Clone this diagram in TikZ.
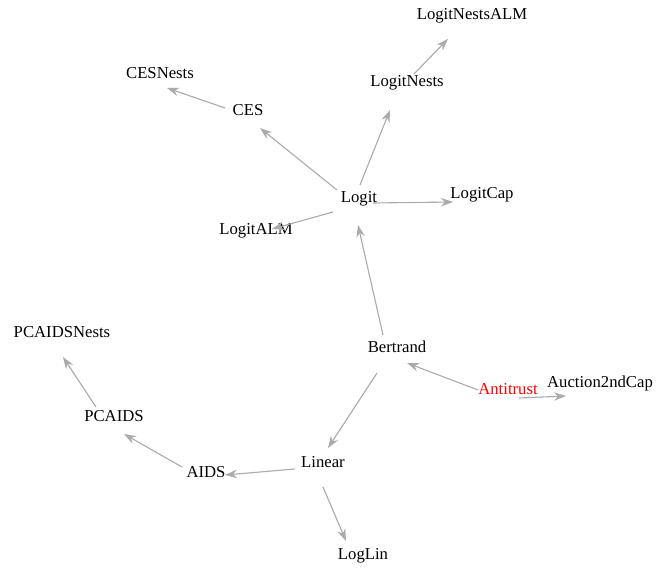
\documentclass[tikz,border=0pt]{standalone}
\usepackage{fontspec}
\setmainfont{Liberation Serif}
\usepackage{xcolor}
\definecolor{edgegray}{rgb}{0.67,0.67,0.67}
\usepackage{tikz}
\usetikzlibrary{arrows,arrows.meta,positioning}
\tikzset{
	model/.style={
		inner sep=0pt, text=black,
		text height=11pt, text depth=0pt,
		font=\fontsize{16.7}{20}\selectfont
	},
	root/.style={model, text=red},
	dep/.style={-{Stealth[length=12pt,width=8.5pt]}, draw=edgegray, fill=edgegray, line width=1.1pt}
}

\begin{document}
\begin{tikzpicture}[x=1pt,y=-1pt]
				\useasboundingbox (0,0) rectangle (657,569);
				\node[model] (nestsalm) at (472,14)  {LogitNestsALM};
				\node[model] (cesnests) at (160,73)  {CESNests};
				\node[model] (nests)    at (407,81)  {LogitNests};
				\node[model] (ces)      at (248,110) {CES};
				\node[model] (logit)    at (359,197) {Logit};
				\node[model] (cap)      at (482,193) {LogitCap};
				\node[model] (alm)      at (256,229) {LogitALM};
				\node[model] (pcnests)  at (62,332)  {PCAIDSNests};
				\node[model] (bertrand) at (397,347) {Bertrand};
				\node[root]  (anti)     at (508,389) {Antitrust};
				\node[model] (auction)  at (600,382) {Auction2ndCap};
				\node[model] (pcaids)   at (114,416) {PCAIDS};
				\node[model] (aids)     at (206,472) {AIDS};
				\node[model] (linear)   at (323,462) {Linear};
				\node[model] (loglin)   at (363,554) {LogLin};
				% Logit branch
				\draw[dep] ([shift={(-22,-7)}]logit.center) -- ([shift={(12,18)}]ces.center);
				\draw[dep] ([shift={(-23,-2)}]ces.center) -- ([shift={(7,15)}]cesnests.center);
				\draw[dep] ([shift={(1,-12)}]logit.center) -- ([shift={(-17,29)}]nests.center);
				\draw[dep] ([shift={(7,-7)}]nests.center) -- ([shift={(-24,25)}]nestsalm.center);
				\draw[dep] ([shift={(14,6)}]logit.center) -- ([shift={(-29,9)}]cap.center);
				\draw[dep] ([shift={(-26,15)}]logit.center) -- ([shift={(16,0)}]alm.center);
				% Bertrand and Antitrust
				\draw[dep] ([shift={(-14,-12)}]bertrand.center) -- ([shift={(-1,28)}]logit.center);
				\draw[dep] ([shift={(-30,1)}]anti.center) -- ([shift={(10,16)}]bertrand.center);
				\draw[dep] ([shift={(11,9)}]anti.center) -- ([shift={(-34,14)}]auction.center);
				\draw[dep] ([shift={(-20,26)}]bertrand.center) -- ([shift={(5,-14)}]linear.center);
				% Linear branch
				\draw[dep] ([shift={(-28,7)}]linear.center) -- ([shift={(19,3)}]aids.center);
				\draw[dep] ([shift={(0,25)}]linear.center) -- ([shift={(-17,-13)}]loglin.center);
				\draw[dep] ([shift={(-24,-5)}]aids.center) -- ([shift={(10,18)}]pcaids.center);
				\draw[dep] ([shift={(-18,-9)}]pcaids.center) -- ([shift={(1,25)}]pcnests.center);
			\end{tikzpicture}
\end{document}
